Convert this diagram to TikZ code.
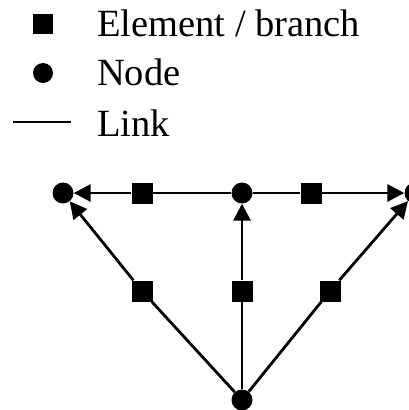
\documentclass[tikz,border=0pt]{standalone}
\usepackage{fontspec}
\setmainfont{Liberation Serif}
\usetikzlibrary{arrows.meta}
\begin{document}
\begin{tikzpicture}[x=1pt,y=-1pt,
  dot/.style={circle,fill=black,inner sep=0pt,minimum size=21pt},
  elem/.style={rectangle,fill=black,inner sep=0pt,minimum size=21pt},
  label/.style={anchor=base west,inner sep=0pt,font=\fontsize{38.5}{40}\selectfont},
  link/.style={line width=2.8pt},
  arr/.style={link,-{Triangle[length=17pt,width=17pt]}}]
\useasboundingbox (0,0) rectangle (409,410);

% legend
\node[elem,minimum size=20pt] (kE) at (43,24) {};
\node[label] (tE) at (97,36.5) {Element / branch};
\node[dot,minimum size=20pt] (kN) at (43,73) {};
\node[label] (tN) at (97,85.5) {Node};
\coordinate (kL1) at (13,122);
\coordinate (kL2) at (71,122);
\draw[link] (kL1) -- (kL2);
\node[label] (tL) at (97,136) {Link};

% network nodes
\node[dot] (L) at (63,193) {};
\node[dot] (M) at (242,193) {};
\node[dot] (R) at (415,193) {};
\node[dot] (B) at (242,400) {};

% elements
\node[elem] (s1) at (142,193) {};
\node[elem] (s2) at (311,193) {};
\node[elem] (s3) at (142,291) {};
\node[elem] (s4) at (242,291) {};
\node[elem] (s5) at (330,291) {};

% branches
\draw[arr] (M) -- (s1) -- (L);
\draw[arr] (M) -- (s2) -- (R);
\draw[arr] (B) -- (s3) -- (L);
\draw[arr] (B) -- (s4) -- (M);
\draw[arr] (B) -- (s5) -- (R);
\end{tikzpicture}
\end{document}
